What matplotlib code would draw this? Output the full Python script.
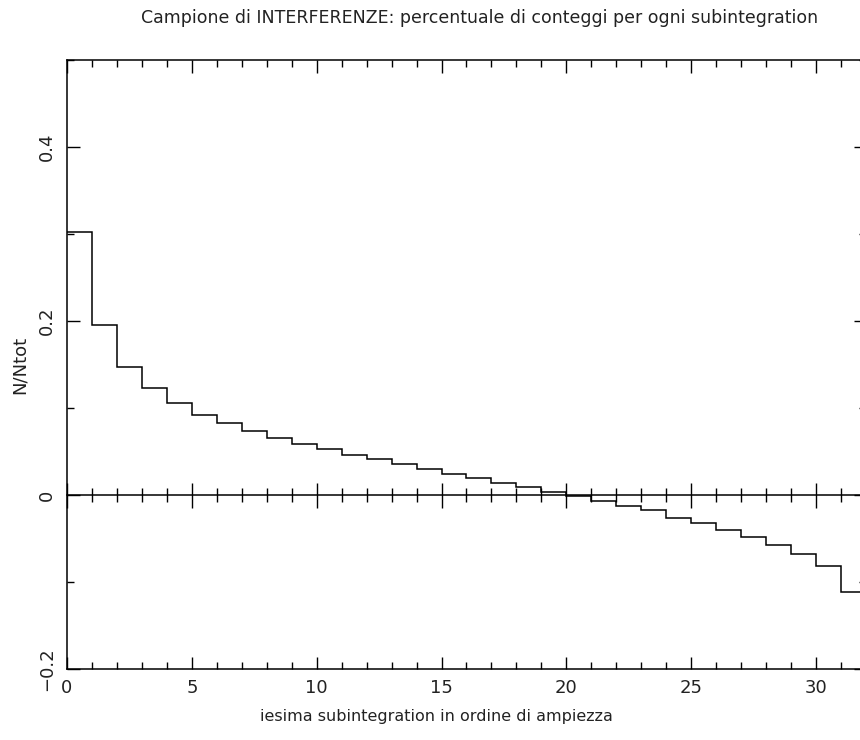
import matplotlib.pyplot as plt
from matplotlib.ticker import MultipleLocator
import numpy as np

# fraction of counts per sub-integration (ordered by amplitude)
edges = np.arange(0, 33)
frac = [0.302, 0.195, 0.1475, 0.1226, 0.1054, 0.092, 0.0831, 0.0736,
        0.066, 0.059, 0.053, 0.046, 0.041, 0.036, 0.030, 0.0245,
        0.0195, 0.014, 0.0092, 0.0038, -0.001, -0.0066, -0.013, -0.0176,
        -0.026, -0.032, -0.040, -0.048, -0.057, -0.068, -0.082, -0.111]

plt.rcParams['font.family'] = 'DejaVu Sans'

fig = plt.figure(figsize=(8.6, 7.4), dpi=100)
ax = fig.add_axes([67/860, 1 - 669/740, (866 - 67)/860, (669 - 60)/740])

ax.stairs(frac, edges, baseline=None, color='black', linewidth=1.1)

ax.set_xlim(0, 32)
ax.set_ylim(-0.2, 0.5)

# zero axis with ticks crossing it
ax0 = ax.twiny()
ax0.set_xlim(ax.get_xlim())
ax0.spines['bottom'].set_position(('data', 0))
for side in ['top', 'left', 'right']:
    ax0.spines[side].set_visible(False)
ax0.spines['bottom'].set_linewidth(1.1)
ax0.xaxis.set_ticks_position('bottom')
ax0.xaxis.set_major_locator(MultipleLocator(5))
ax0.xaxis.set_minor_locator(MultipleLocator(1))
ax0.tick_params(which='both', direction='inout', labelbottom=False,
                labeltop=False, width=1, color='black')
ax0.tick_params(which='major', length=18)
ax0.tick_params(which='minor', length=10)

ax.xaxis.set_major_locator(MultipleLocator(5))
ax.xaxis.set_minor_locator(MultipleLocator(1))
ax.yaxis.set_major_locator(MultipleLocator(0.2))
ax.yaxis.set_minor_locator(MultipleLocator(0.1))
ax.set_xticks([0, 5, 10, 15, 20, 25, 30])
ax.set_xticklabels(['0', '5', '10', '15', '20', '25', '30'])
ax.set_yticks([-0.2, 0, 0.2, 0.4])
ax.set_yticklabels(['\u22120.2', '0', '0.2', '0.4'])

ax.tick_params(which='both', direction='in', top=True, bottom=True,
               left=True, right=True, labeltop=False, labelbottom=True,
               width=1, color='black', labelsize=13, labelcolor='#222222')
ax.tick_params(which='major', length=9)
ax.tick_params(which='minor', length=5)
ax.tick_params(axis='x', pad=7)
ax.tick_params(axis='y', pad=8)
for lab in ax.get_yticklabels():
    lab.set_rotation(90)
    lab.set_va('center')
for sp in ax.spines.values():
    sp.set_linewidth(1.1)

fig.text(480/860, 1 - 18/740, 'Campione di INTERFERENZE: percentuale di conteggi per ogni subintegration',
         ha='center', va='center', fontsize=12.5, color='#222222')
fig.text(436/860, 1 - 717/740, 'iesima subintegration in ordine di ampiezza',
         ha='center', va='center', fontsize=11.5, color='#222222')
fig.text(20/860, 1 - 365/740, 'N/Ntot', rotation=90,
         ha='center', va='center', fontsize=13, color='#222222')

fig.savefig('out.png', dpi=100)
